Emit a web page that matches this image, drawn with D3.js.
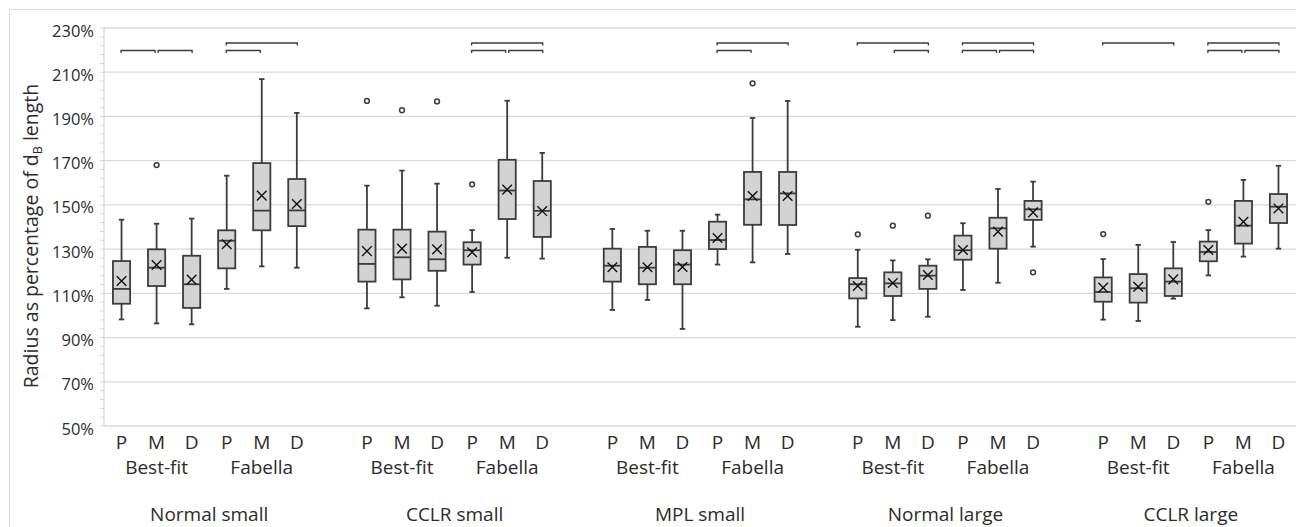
<!DOCTYPE html>
<html lang="en">
<head>
<meta charset="UTF-8" />
<title>Box plots</title>
<script src="https://d3js.org/d3.v7.min.js"></script>
<style>
  body { margin: 0; background: #fff; }
  text { font-family: "Open Sans", Lato, sans-serif; fill: #2b2b2b; }
</style>
</head>
<body>
<svg width="1302" height="527"></svg>
<script>
  const groups = ["Normal small", "CCLR small", "MPL small", "Normal large", "CCLR large"];
  const methods = ["Best-fit", "Fabella"];
  const positions = ["P", "M", "D"];

  // per box, in order group -> method -> position
  const whiskerLow = [98.2, 96.4, 96.0, 112.0, 122.2, 121.6,
                      103.2, 108.2, 104.4, 110.6, 126.1, 125.7,
                      102.5, 107.0, 93.9, 123.0, 124.0, 127.8,
                      94.9, 97.9, 99.4, 111.5, 114.8, 131.1,
                      98.1, 97.5, 107.6, 118.1, 126.6, 130.2];
  const q1 = [105.3, 113.3, 103.4, 121.3, 138.5, 140.4,
              115.3, 116.3, 120.2, 123.0, 143.6, 135.5,
              115.3, 114.1, 114.1, 130.0, 141.0, 140.9,
              107.7, 108.8, 112.0, 125.2, 130.2, 143.2,
              106.2, 105.8, 108.8, 124.5, 132.5, 141.8];
  const median = [112.0, 121.6, 114.1, 133.8, 147.4, 147.5,
                  123.3, 126.3, 125.4, 129.5, 156.5, 147.3,
                  122.5, 121.6, 123.0, 134.1, 152.5, 155.2,
                  114.1, 114.5, 118.0, 129.5, 139.4, 148.0,
                  110.6, 112.3, 115.3, 128.7, 140.6, 149.2];
  const q3 = [124.6, 129.9, 127.0, 138.5, 168.9, 161.7,
              138.8, 138.8, 137.9, 133.1, 170.4, 160.8,
              130.2, 131.0, 129.5, 142.4, 164.9, 164.9,
              116.9, 119.5, 122.5, 136.1, 144.2, 151.8,
              117.2, 118.7, 121.3, 133.4, 151.8, 154.9];
  const whiskerHigh = [143.3, 141.5, 143.8, 163.2, 206.9, 191.6,
                       158.7, 165.5, 159.6, 138.6, 197.1, 173.5,
                       139.1, 138.3, 138.3, 145.6, 189.3, 197.0,
                       129.7, 124.9, 125.4, 141.7, 157.2, 160.5,
                       125.5, 131.9, 133.2, 138.6, 161.3, 167.7];
  const means = [115.6, 122.8, 116.2, 132.2, 154.2, 150.4,
                 129.1, 130.2, 129.9, 128.6, 156.9, 147.2,
                 121.8, 121.8, 121.9, 135.0, 154.0, 154.0,
                 113.3, 114.7, 118.3, 129.6, 137.9, 146.6,
                 112.6, 113.0, 116.3, 129.6, 142.4, 148.4];
  // [box index, value]
  const outliers = [[1, 168.0], [6, 197.0], [7, 192.8], [8, 196.8], [9, 159.3],
                    [16, 205.0], [18, 136.7], [19, 140.6], [20, 145.1], [23, 119.5],
                    [24, 136.8], [27, 151.4]];
  // significance brackets: group, method, from, to, level (0 = upper, 1 = lower)
  const brackets = [
    [0, 0, "P", "M", 1], [0, 0, "M", "D", 1], [0, 1, "P", "D", 0], [0, 1, "P", "M", 1],
    [1, 1, "P", "D", 0], [1, 1, "P", "M", 1], [1, 1, "M", "D", 1],
    [2, 1, "P", "D", 0], [2, 1, "P", "M", 1],
    [3, 0, "P", "D", 0], [3, 0, "M", "D", 1], [3, 1, "P", "D", 0], [3, 1, "P", "M", 1], [3, 1, "M", "D", 1],
    [4, 0, "P", "D", 0], [4, 1, "P", "D", 0], [4, 1, "P", "M", 1], [4, 1, "M", "D", 1]
  ];
  const yTicks = d3.range(50, 231, 20);

  const svg = d3.select("svg");
  const plotLeft = 104, plotRight = 1296, plotTop = 28, plotBottom = 426;

  // slots: 6 boxes per group plus an empty slot between groups
  const slots = [];
  const boxes = [];
  groups.forEach((g, gi) => {
    methods.forEach((m, mi) => {
      positions.forEach(p => {
        const key = gi + "|" + mi + "|" + p;
        slots.push(key);
        boxes.push({ key, g: gi, m: mi, p });
      });
    });
    if (gi < groups.length - 1) slots.push("gap" + gi);
  });
  boxes.forEach((b, i) => {
    b.lo = whiskerLow[i]; b.q1 = q1[i]; b.med = median[i];
    b.q3 = q3[i]; b.hi = whiskerHigh[i]; b.mean = means[i];
  });

  const x = d3.scaleBand().domain(slots).range([plotLeft, plotRight]).padding(0);
  const y = d3.scaleLinear().domain([50, 230]).range([plotBottom, plotTop]);
  const cx = key => x(key) + x.bandwidth() / 2;
  const bw = x.bandwidth() * 0.49;
  const dark = "#3c3c3c";

  // outer border (left and top edges visible)
  svg.append("line").attr("x1", 9.5).attr("x2", 9.5).attr("y1", 9.5).attr("y2", 527)
    .attr("stroke", "#d9d9d9");
  svg.append("line").attr("x1", 9.5).attr("x2", plotRight).attr("y1", 9.5).attr("y2", 9.5)
    .attr("stroke", "#d9d9d9");

  // gridlines
  svg.append("g").selectAll("line").data(yTicks).join("line")
    .attr("x1", plotLeft).attr("x2", plotRight)
    .attr("y1", d => y(d)).attr("y2", d => y(d))
    .attr("stroke", "#d9d9d9").attr("stroke-width", 1.3);

  // y axis line + minor ticks
  svg.append("line").attr("x1", plotLeft).attr("x2", plotLeft).attr("y1", plotTop).attr("y2", plotBottom)
    .attr("stroke", "#d9d9d9").attr("stroke-width", 1.3);
  svg.append("g").selectAll("line").data(d3.range(50, 231, 4)).join("line")
    .attr("x1", plotLeft - 4).attr("x2", plotLeft)
    .attr("y1", d => y(d)).attr("y2", d => y(d))
    .attr("stroke", "#d9d9d9").attr("stroke-width", 1);

  svg.append("g").selectAll("text").data(yTicks).join("text")
    .attr("x", 94).attr("y", d => y(d) + 8.5)
    .attr("text-anchor", "end").attr("font-size", "16.5px")
    .text(d => d + "%");

  const yTitle = svg.append("text")
    .attr("transform", "translate(38," + 236 + ") rotate(-90)")
    .attr("text-anchor", "middle").attr("font-size", "19.5px");
  yTitle.append("tspan").text("Radius as percentage of d");
  yTitle.append("tspan").attr("font-size", "12.5px").attr("dy", 4).text("B");
  yTitle.append("tspan").attr("dy", -4).text(" length");

  // whiskers
  const bx = svg.append("g").selectAll("g").data(boxes).join("g");
  bx.append("line").attr("x1", d => cx(d.key)).attr("x2", d => cx(d.key))
    .attr("y1", d => y(d.hi)).attr("y2", d => y(d.lo))
    .attr("stroke", dark).attr("stroke-width", 1.8);
  ["hi", "lo"].forEach(k => {
    bx.append("line").attr("x1", d => cx(d.key) - 2.7).attr("x2", d => cx(d.key) + 2.7)
      .attr("y1", d => y(d[k])).attr("y2", d => y(d[k]))
      .attr("stroke", dark).attr("stroke-width", 1.8);
  });
  bx.append("rect")
    .attr("x", d => cx(d.key) - bw / 2).attr("width", bw)
    .attr("y", d => y(d.q3)).attr("height", d => y(d.q1) - y(d.q3))
    .attr("fill", "#d3d3d3").attr("stroke", dark).attr("stroke-width", 1.8);
  bx.append("line").attr("x1", d => cx(d.key) - bw / 2).attr("x2", d => cx(d.key) + bw / 2)
    .attr("y1", d => y(d.med)).attr("y2", d => y(d.med))
    .attr("stroke", dark).attr("stroke-width", 1.8);
  bx.append("path")
    .attr("d", d => {
      const px = cx(d.key), py = y(d.mean), s = 4.8;
      return `M${px - s},${py - s}L${px + s},${py + s}M${px - s},${py + s}L${px + s},${py - s}`;
    })
    .attr("stroke", "#111").attr("stroke-width", 1.4).attr("fill", "none");

  // outliers
  svg.append("g").selectAll("circle").data(outliers).join("circle")
    .attr("cx", d => cx(boxes[d[0]].key)).attr("cy", d => y(d[1]))
    .attr("r", 2.4).attr("fill", "#fff").attr("stroke", dark).attr("stroke-width", 1.5);

  // significance brackets
  const levelY = [43, 50.5];
  svg.append("g").selectAll("path").data(brackets).join("path")
    .attr("d", d => {
      const x1 = cx(d[0] + "|" + d[1] + "|" + d[2]) + (d[2] === "M" ? 1.5 : -0.5);
      const x2 = cx(d[0] + "|" + d[1] + "|" + d[3]) - (d[3] === "M" ? 1.5 : -0.5);
      const by = levelY[d[4]];
      return `M${x1},${by + 2.5}V${by}H${x2}V${by + 2.5}`;
    })
    .attr("fill", "none").attr("stroke", dark).attr("stroke-width", 1.3);

  // category labels
  svg.append("g").selectAll("text").data(boxes).join("text")
    .attr("x", d => cx(d.key)).attr("y", 448.5)
    .attr("text-anchor", "middle").attr("font-size", "19px")
    .text(d => d.p);
  const sub = [];
  groups.forEach((g, gi) => methods.forEach((m, mi) => sub.push({ gi, mi, m })));
  svg.append("g").selectAll("text").data(sub).join("text")
    .attr("x", d => cx(d.gi + "|" + d.mi + "|M")).attr("y", 473.5)
    .attr("text-anchor", "middle").attr("font-size", "19px")
    .text(d => d.m);
  svg.append("g").selectAll("text").data(groups).join("text")
    .attr("x", (d, gi) => (cx(gi + "|0|P") + cx(gi + "|1|D")) / 2).attr("y", 520.5)
    .attr("text-anchor", "middle").attr("font-size", "19px")
    .text(d => d);
</script>
</body>
</html>
